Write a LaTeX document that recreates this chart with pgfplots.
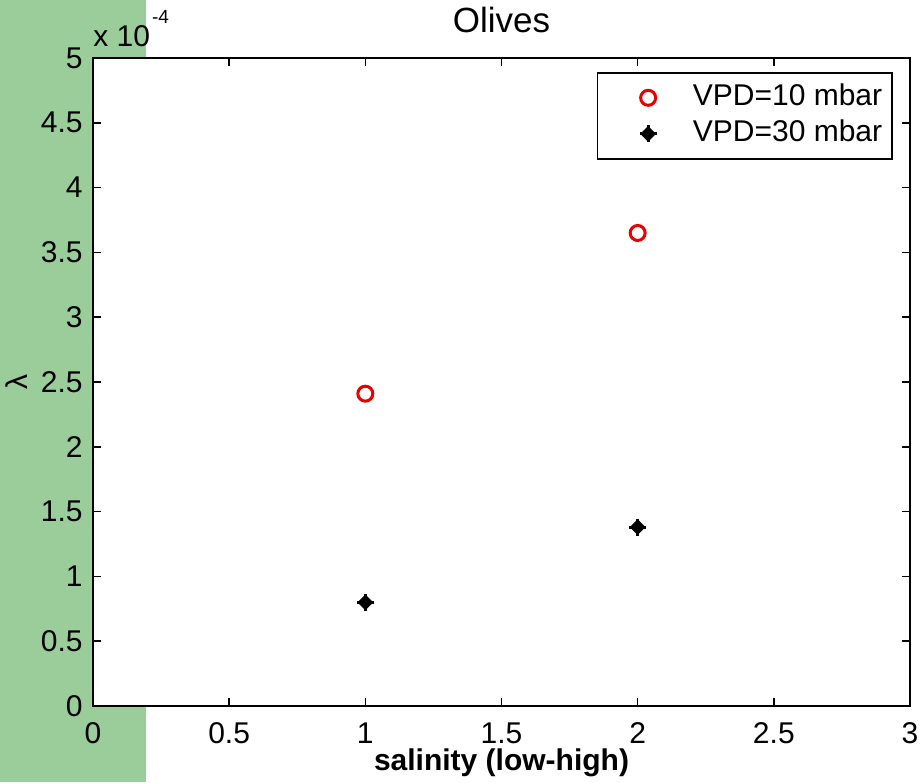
\documentclass[border=0pt]{standalone}
\usepackage{fontspec}
\setmainfont{Liberation Sans}
\usepackage{pgfplots}
\pgfplotsset{compat=1.18}
\definecolor{bggreen}{RGB}{155,205,154}
\definecolor{mred}{RGB}{235,0,0}

% MATLAB-like thick plus
\pgfdeclareplotmark{fatplus}{%
  \pgfpathmoveto{\pgfqpoint{0.7\pgfplotmarksize}{0pt}}%
  \pgfpathlineto{\pgfqpoint{0pt}{0.7\pgfplotmarksize}}%
  \pgfpathlineto{\pgfqpoint{-0.7\pgfplotmarksize}{0pt}}%
  \pgfpathlineto{\pgfqpoint{0pt}{-0.7\pgfplotmarksize}}%
  \pgfpathclose
  \pgfusepathqfillstroke
  \pgfpathmoveto{\pgfqpoint{\pgfplotmarksize}{0pt}}%
  \pgfpathlineto{\pgfqpoint{-\pgfplotmarksize}{0pt}}%
  \pgfpathmoveto{\pgfqpoint{0pt}{\pgfplotmarksize}}%
  \pgfpathlineto{\pgfqpoint{0pt}{-\pgfplotmarksize}}%
  \pgfusepathqstroke
}

\begin{document}
\begin{tikzpicture}
\useasboundingbox (0,0) rectangle (460.5pt,391pt);
\fill[bggreen] (0,0) rectangle (73pt,391pt);
\begin{axis}[
    at={(46.5pt,38pt)}, anchor=south west,
    scale only axis, width=408.5pt, height=324pt,
    xmin=0, xmax=3, ymin=0, ymax=5,
    xtick={0,0.5,...,3}, ytick={0,0.5,...,5},
    tick align=inside, major tick length=4pt,
    xtick pos=both, ytick pos=both,
    axis line style={line width=1pt},
    every tick/.style={black, line width=0.8pt},
    axis background/.style={fill=white},
    font=\fontsize{15}{18}\selectfont,
    /pgf/number format/assume math mode=true,
    /pgf/number format/fixed,
    xticklabel style={inner sep=0pt, anchor=north, yshift=-8pt},
    yticklabel style={inner sep=0pt, anchor=east, xshift=-5pt},
    every axis title/.style={at={(0.5,1)}, anchor=base, yshift=12.5pt, font=\fontsize{17.5}{20}\selectfont},
    title={Olives},
    every axis x label/.style={at={(0.5,0)}, anchor=base, yshift=-32pt},
    xlabel={\bfseries salinity (low-high)},
    every axis y label/.style={at={(-0.093,0.5)}, rotate=90, anchor=center},
    ylabel={λ},
    clip=false,
    legend style={at={(1,1)}, anchor=north east, xshift=-8.5pt, yshift=-7pt,
        draw=black, line width=0.8pt, inner xsep=4pt, inner ysep=3.5pt,
        row sep=0pt,
        nodes={inner sep=1pt, text height=12pt, text depth=4pt, anchor=west}},
    legend cell align=left,
    legend image code/.code={\path (0pt,0pt) (42pt,0pt); \draw[#1] plot coordinates {(21pt,0pt)};},
]
\addplot[only marks, draw=mred, mark=o, mark size=3.75pt, mark options={line width=1.5pt, draw=mred}]
    coordinates {(1,2.41) (2,3.65)};
\addlegendentry{VPD=10 mbar}
\addplot[only marks, draw=black, fill=black, mark=fatplus, mark size=4.2pt, mark options={line width=1.4pt, fill=black}]
    coordinates {(1,0.80) (2,1.38)};
\addlegendentry{VPD=30 mbar}
\node[anchor=base west, inner sep=0pt] at (rel axis cs:0,1) [yshift=5.5pt]
    {x 10\hspace{1pt}\raisebox{11.5pt}{\fontsize{9.5}{10}\selectfont -4}};
\end{axis}
\end{tikzpicture}
\end{document}
